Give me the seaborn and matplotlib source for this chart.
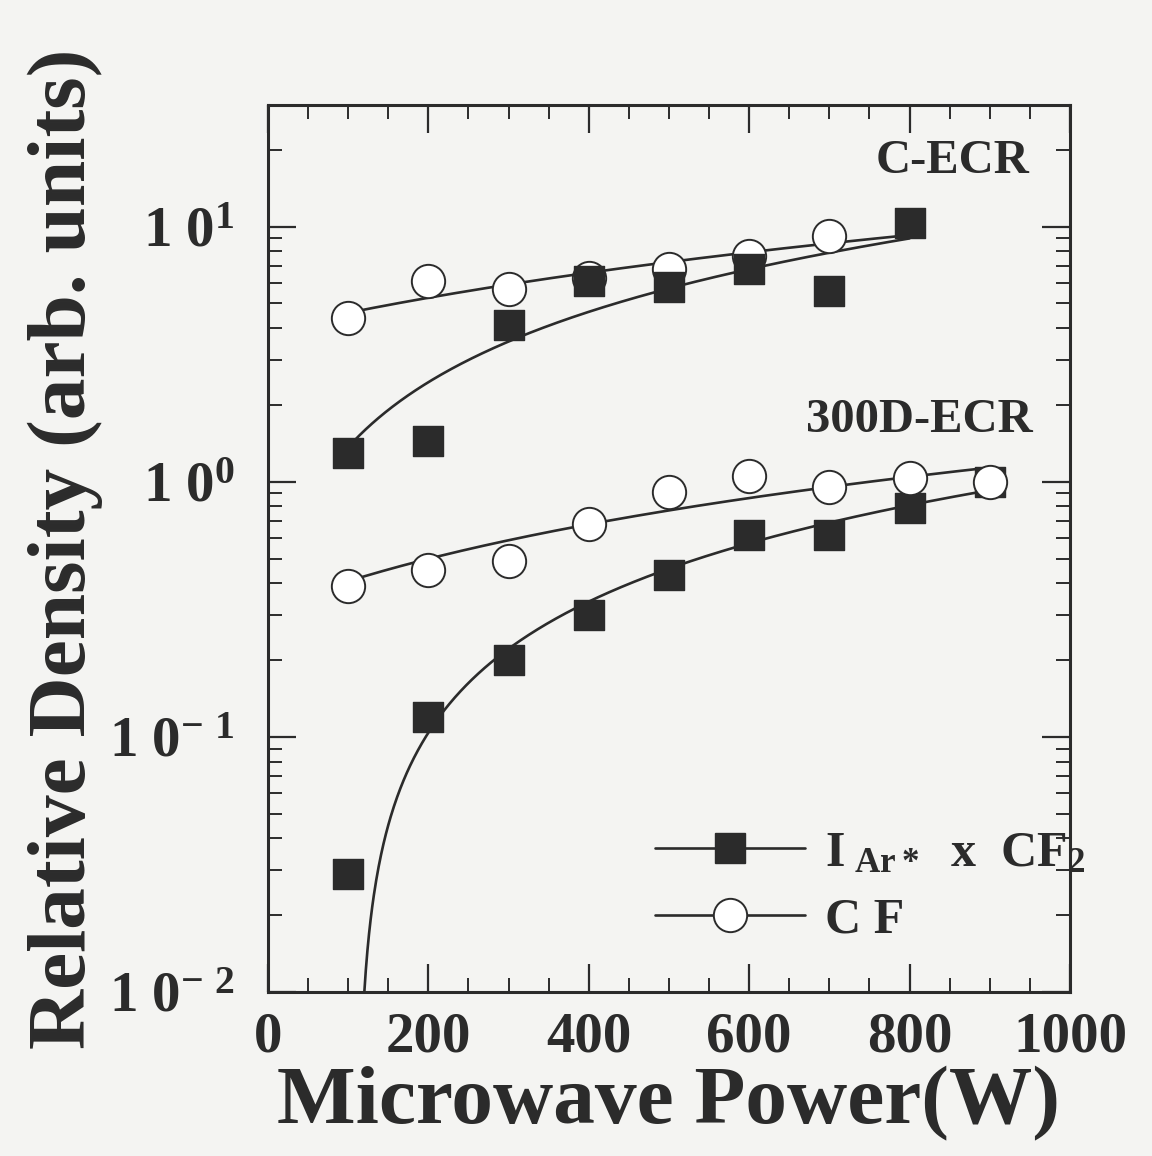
import numpy as np
import matplotlib
matplotlib.use("Agg")
import matplotlib.pyplot as plt
from matplotlib.lines import Line2D
from matplotlib.ticker import FixedLocator, LogLocator, NullFormatter, MultipleLocator
import seaborn as sns

# ---------------- data ----------------
power_c = np.array([100, 200, 300, 400, 500, 600, 700, 800])
c_ecr_iar_cf2 = np.array([1.3, 1.45, 4.1, 6.1, 5.8, 6.8, 5.6, 10.3])
power_c_cf = np.array([100, 200, 300, 400, 500, 600, 700])
c_ecr_cf = np.array([4.4, 6.1, 5.7, 6.3, 6.8, 7.7, 9.2])

power_d = np.array([100, 200, 300, 400, 500, 600, 700, 800, 900])
d_ecr_iar_cf2 = np.array([0.029, 0.12, 0.20, 0.30, 0.43, 0.62, 0.62, 0.79, 1.0])
d_ecr_cf = np.array([0.39, 0.45, 0.49, 0.68, 0.91, 1.05, 0.95, 1.03, 1.0])

x_ticks = [0, 200, 400, 600, 800, 1000]
y_ticks = [1e-2, 1e-1, 1e0, 1e1]
y_tick_labels = [r"1 0$^{-\ 2}$", r"1 0$^{-\ 1}$", r"1 0$^{0}$", r"1 0$^{1}$"]
group_labels = ["C-ECR", "300D-ECR"]
legend_labels = [r"I$_{\ \mathrm{Ar*}}$  x  CF$_{2}$", "C F"]

# ---------------- style ----------------
sns.set_theme(style="ticks")
plt.rcParams["font.family"] = ["Liberation Serif", "DejaVu Serif"]
plt.rcParams["font.weight"] = "bold"
plt.rcParams["mathtext.fontset"] = "custom"
plt.rcParams["mathtext.rm"] = "Liberation Serif:bold"
plt.rcParams["mathtext.bf"] = "Liberation Serif:bold"
plt.rcParams["mathtext.it"] = "Liberation Serif:bold"

bg = "#f4f4f2"
ink = "#2b2b2b"

fig = plt.figure(figsize=(11.52, 11.56), dpi=100, facecolor=bg)
ax = fig.add_axes([0.2326, 0.1419, 0.6962, 0.7673])
ax.set_facecolor(bg)
ax.set_yscale("log")

def fit_line(x, y, x0, x1):
    p = np.polyfit(x, y, 1)
    xs = np.linspace(x0, x1, 800)
    ys = np.polyval(p, xs)
    ys = np.where(ys > 0, ys, np.nan)
    return xs, ys

lw_line = 1.9
for x, y, x1 in [(power_c, c_ecr_iar_cf2, power_c.max()),
                 (power_c_cf, c_ecr_cf, power_c.max()),
                 (power_d, d_ecr_iar_cf2, power_d.max()),
                 (power_d, d_ecr_cf, power_d.max())]:
    xs, ys = fit_line(x, y, x.min(), x1)
    ax.plot(xs, ys, color=ink, lw=lw_line, zorder=2)

sq = 22 ** 2
ci = 24 ** 2
# C-ECR: circles under squares
sns.scatterplot(x=power_c_cf, y=c_ecr_cf, ax=ax, marker="o", s=ci, facecolor="white",
                edgecolor=ink, linewidth=1.4, zorder=3)
sns.scatterplot(x=power_c, y=c_ecr_iar_cf2, ax=ax, marker="s", s=sq, color=ink,
                edgecolor=ink, linewidth=1.0, zorder=4)
# 300D-ECR: squares under circles
sns.scatterplot(x=power_d, y=d_ecr_iar_cf2, ax=ax, marker="s", s=sq, color=ink,
                edgecolor=ink, linewidth=1.0, zorder=3)
sns.scatterplot(x=power_d, y=d_ecr_cf, ax=ax, marker="o", s=ci, facecolor="white",
                edgecolor=ink, linewidth=1.4, zorder=4)

ax.set_xlim(0, 1000)
ax.set_ylim(1e-2, 30)

ax.xaxis.set_major_locator(FixedLocator(x_ticks))
ax.xaxis.set_minor_locator(MultipleLocator(50))
ax.set_xticklabels([str(v) for v in x_ticks])
ax.yaxis.set_major_locator(FixedLocator(y_ticks))
ax.set_yticklabels(y_tick_labels)
ax.yaxis.set_minor_locator(LogLocator(base=10, subs=np.arange(2, 10), numticks=20))
ax.yaxis.set_minor_formatter(NullFormatter())

for s in ax.spines.values():
    s.set_linewidth(2.2)
    s.set_color(ink)

ax.tick_params(which="both", direction="in", top=True, right=True, color=ink)
ax.tick_params(which="major", length=20, width=1.6)
ax.tick_params(which="minor", length=10, width=1.4)
ax.tick_params(axis="x", which="major", labelsize=41, pad=14, labelcolor=ink)
ax.tick_params(axis="y", which="major", labelsize=41, pad=24, labelcolor=ink)

ax.set_xlabel("Microwave Power(W)", fontsize=60, fontweight="bold", color=ink, labelpad=2)
ax.set_ylabel("Relative Density (arb. units)", fontsize=60, fontweight="bold", color=ink, labelpad=4)

ax.text(0.950, 0.937, group_labels[0], transform=ax.transAxes, ha="right", va="center",
        fontsize=35, fontweight="bold", color=ink)
ax.text(0.953, 0.645, group_labels[1], transform=ax.transAxes, ha="right", va="center",
        fontsize=35, fontweight="bold", color=ink)

handles = [
    Line2D([], [], color=ink, lw=lw_line, marker="s", markersize=22, markerfacecolor=ink,
           markeredgecolor=ink),
    Line2D([], [], color=ink, lw=lw_line, marker="o", markersize=24, markerfacecolor="white",
           markeredgecolor=ink, markeredgewidth=1.4),
]
leg = ax.legend(handles, legend_labels, loc="center left", bbox_to_anchor=(0.4825, 0.118),
                frameon=False, fontsize=36, handlelength=3.0, handletextpad=0.4,
                labelspacing=0.42, borderpad=0, borderaxespad=0)
for t in leg.get_texts():
    t.set_color(ink)

fig.savefig("out.png", dpi=100, facecolor=bg)
